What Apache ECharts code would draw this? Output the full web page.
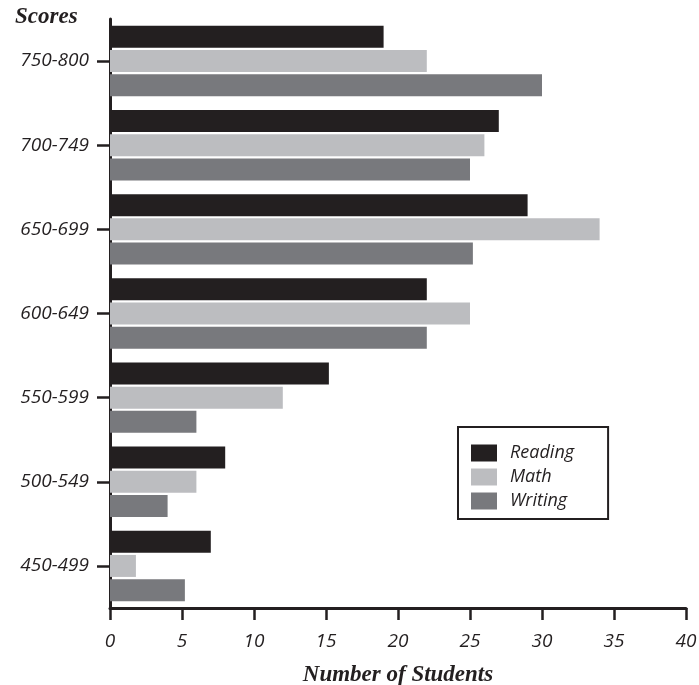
<!DOCTYPE html>
<html>
<head>
<meta charset="utf-8">
<script src="https://cdn.jsdelivr.net/npm/echarts@6/dist/echarts.min.js"></script>
<style>html,body{margin:0;padding:0;background:#fff}#c{width:699px;height:685px}</style>
</head>
<body>
<div id="c"></div>
<script>
var categories = ['750-800', '700-749', '650-699', '600-649', '550-599', '500-549', '450-499'];
var reading = [19, 27, 29, 22, 15.2, 8, 7];
var math = [22, 26, 34, 25, 12, 6, 1.8];
var writing = [30, 25, 25.2, 22, 6, 4, 5.2];
var xTicks = { min: 0, max: 40, interval: 5 };

var chart = echarts.init(document.getElementById('c'));
var ink = '#231f20';
chart.setOption({
  animation: false,
  title: {
    text: 'Scores', left: 10, top: 1,
    textStyle: { fontFamily: 'Liberation Serif', fontStyle: 'italic', fontWeight: 'bold', fontSize: 23, color: ink }
  },
  legend: {
    orient: 'vertical', left: 458, top: 427,
    data: ['Reading', 'Math', 'Writing'],
    itemWidth: 26, itemHeight: 17, itemGap: 6,
    borderColor: ink, borderWidth: 2, borderRadius: 0,
    padding: [17, 34, 9, 13],
    icon: 'rect',
    textStyle: { fontFamily: 'Open Sans', fontStyle: 'italic', fontSize: 18, color: ink, padding: [0, 0, 0, 8] }
  },
  grid: { left: 110, right: 13, top: 19, bottom: 77, containLabel: false, outerBoundsMode: 'none' },
  xAxis: {
    type: 'value', min: xTicks.min, max: xTicks.max, interval: xTicks.interval,
    name: 'Number of Students', nameLocation: 'middle', nameGap: 56,
    nameTextStyle: { fontFamily: 'Liberation Serif', fontStyle: 'italic', fontWeight: 'bold', fontSize: 23, color: ink },
    axisLine: { show: true, lineStyle: { color: ink, width: 3 } },
    axisTick: { show: true, length: 12, lineStyle: { color: ink, width: 2.5 } },
    axisLabel: { fontFamily: 'Open Sans', fontStyle: 'italic', fontSize: 19, color: ink, margin: 24 },
    splitLine: { show: false }
  },
  yAxis: {
    type: 'category', data: categories, inverse: true,
    axisLine: { show: true, lineStyle: { color: ink, width: 3 } },
    axisTick: { show: true, alignWithLabel: true, length: 13, lineStyle: { color: ink, width: 2.5 } },
    axisLabel: { fontFamily: 'Open Sans', fontStyle: 'italic', fontSize: 19, color: ink, margin: 21 }
  },
  series: [
    { name: 'Reading', type: 'bar', data: reading, barWidth: 22, barGap: '10%', itemStyle: { color: ink } },
    { name: 'Math', type: 'bar', data: math, barWidth: 22, barGap: '10%', itemStyle: { color: '#bcbdc0' } },
    { name: 'Writing', type: 'bar', data: writing, barWidth: 22, barGap: '10%', itemStyle: { color: '#78797d' } }
  ]
});
</script>
</body>
</html>
